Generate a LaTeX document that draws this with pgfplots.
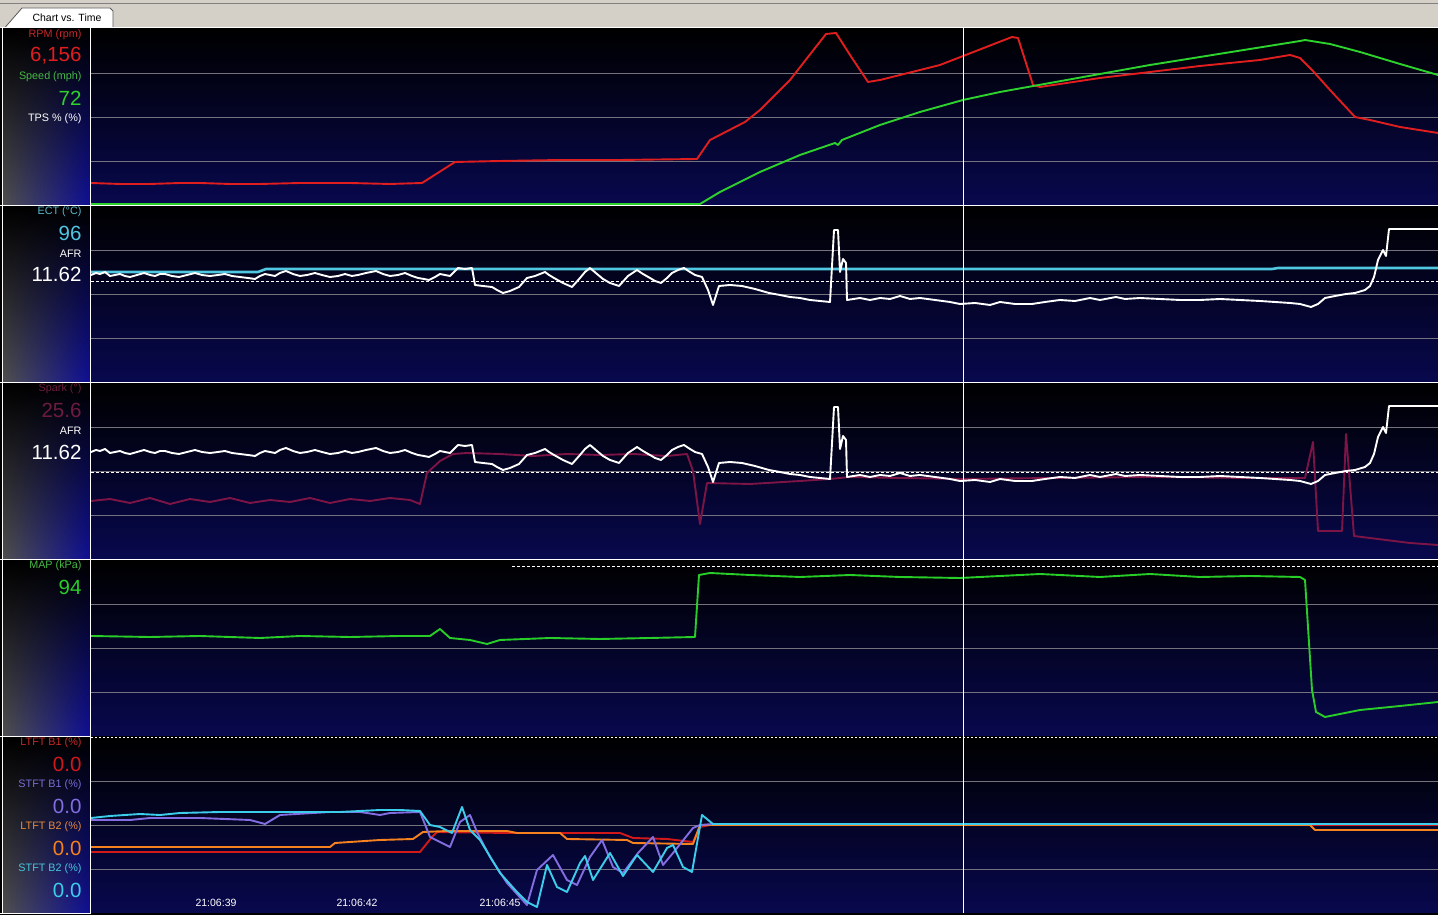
\documentclass[border=0pt]{standalone}
\usepackage{pgfplots}
\pgfplotsset{compat=1.18}
\usepackage{pgfplotstable}
\usepackage{fontspec}
\setmainfont{Liberation Sans}
\usetikzlibrary{fadings}
\definecolor{rpmred}{RGB}{225,30,30}
\definecolor{spdgreen}{RGB}{45,210,45}
\definecolor{ectcyan}{RGB}{80,200,225}
\definecolor{sparkc}{RGB}{125,20,70}
\definecolor{mapgreen}{RGB}{40,205,40}
\definecolor{ltbone}{RGB}{210,25,25}
\definecolor{stbone}{RGB}{130,110,225}
\definecolor{ltbtwo}{RGB}{245,130,30}
\definecolor{stbtwo}{RGB}{60,205,235}
\definecolor{gridgray}{RGB}{115,115,125}
\definecolor{panelbot}{RGB}{8,8,78}
\definecolor{tabgray}{RGB}{212,208,200}
\definecolor{leftblue}{RGB}{15,15,150}
\definecolor{leftgray}{RGB}{80,80,80}
\definecolor{leftmid}{RGB}{12,12,40}
\definecolor{lRPM}{RGB}{200,40,40}
\definecolor{lSPD}{RGB}{70,185,70}
\definecolor{lECT}{RGB}{90,185,205}
\definecolor{lSPK}{RGB}{110,28,62}
\definecolor{lSTB1}{RGB}{120,110,215}
\definecolor{lLTB2}{RGB}{230,140,60}
\definecolor{lSTB2}{RGB}{70,200,220}

\pgfplotstableread{
x y
91 107
96 109
100 108
105 110
110 106
115 107
120 108
125 106
130 105
137 107
144 109
150 107
155 106
160 108
165 108
172 106
179 105
187 107
195 109
202 107
210 106
218 107
225 108
232 106
240 105
248 104
255 103
260 106
265 108
270 107
275 106
280 109
286 111
293 108
300 106
307 107
315 109
322 107
330 105
338 106
345 108
352 106
358 107
366 109
376 111
383 108
390 106
398 107
405 109
412 106
418 104
424 103
429 102
435 105
440 108
445 107
450 106
458 114
465 113
472 114
475 97
483 96
492 95
497 92
503 89
510 91
519 95
527 104
535 106
545 110
549 107
554 104
563 99
572 95
580 104
585 110
590 114
597 108
603 103
610 99
619 96
628 106
637 112
643 108
650 104
655 101
661 99
667 104
672 109
678 112
684 114
690 110
695 107
702 105
708 92
713 77
719 96
730 97
742 96
755 93
769 89
780 87
790 85
800 84
810 82
820 81
830 80
834 152
838 152
840 110
843 123
846 119
847 82
860 84
870 82
880 84
890 83
900 86
910 83
920 84
935 82
950 80
960 78
975 79
990 77
1000 80
1015 78
1032 78
1045 80
1060 82
1075 81
1090 84
1100 82
1116 85
1125 83
1140 84
1160 83
1180 82
1200 82
1220 83
1240 82
1260 81
1275 80
1290 79
1300 78
1311 75
1318 78
1325 84
1335 86
1346 88
1355 89
1365 92
1370 96
1374 105
1378 122
1383 132
1386 126
1389 153
1438 153
}\afr

\pgfplotsset{panel/.style={scale only axis, width=1347pt, height=176pt,
  xmin=91, xmax=1438, ymin=0, ymax=176, anchor=south west,
  axis line style={draw=none}, xtick=\empty, ytick={44,88,132}, yticklabels={},
  major tick length=0pt, ymajorgrids, major grid style={color=gridgray, line width=0.9pt},
  clip=true}}
\tikzset{trace/.style={line width=1.9pt, line join=round, line cap=round}}

\begin{document}
\begin{tikzpicture}[x=1pt,y=1pt]
\useasboundingbox (0,0) rectangle (1438,915);
\fill[tabgray] (0,0) rectangle (1438,915);
\draw[gray, line width=1pt] (0,911.5) -- (1438,911.5);
\fill[black] (0,0) rectangle (1438,887.5);
% tab
\filldraw[fill=white, draw=gray!70!black, line width=0.8pt] (5,887.5) -- (22,907) -- (110,907) -- (113,904) -- (113,887.5);
\node[font=\fontsize{10.5}{12}\selectfont, black] at (67,897) {Chart vs. Time};
% panel backgrounds
\foreach \b in {710,533,356,179,2} {
  \shade[top color=black, bottom color=panelbot] (91,\b) rectangle (1438,\b+176);
  \fill[black] (3,\b) rectangle (90,\b+176);
  \shade[left color=leftgray, middle color=leftmid, right color=leftblue, path fading=north] (3,\b) rectangle (90,\b+176);
}

% ---------- Panel 1: RPM / Speed ----------
\begin{axis}[panel, at={(91pt,710pt)}]
\addplot[trace, rpmred] coordinates {
(91,22) (120,21) (150,21) (180,22) (200,22) (230,21) (260,21) (300,22) (350,22) (390,21) (422,22)
(455,43) (500,44) (560,45) (620,45) (697,46) (710,65) (745,83) (760,95) (790,125)
(826,171) (836,172) (850,150) (868,123) (880,125) (940,140) (1012,168) (1018,167)
(1033,120) (1040,118) (1100,127) (1200,139) (1260,145) (1290,150) (1300,147)
(1312,135) (1330,115) (1355,88) (1370,85) (1400,78) (1438,72)};
\addplot[trace, spdgreen] coordinates {
(91,1) (700,1) (720,13) (760,33) (800,50) (835,62) (838,60) (842,65) (880,80) (920,93)
(963,105) (1000,113) (1050,122) (1100,131) (1150,140) (1200,148) (1250,156) (1300,164)
(1305,165) (1330,161) (1360,153) (1400,141) (1438,130)};
\end{axis}

% ---------- Panel 2: ECT / AFR ----------
\begin{axis}[panel, at={(91pt,533pt)}]
\addplot[white, line width=0.9pt, dash pattern=on 3pt off 2pt] coordinates {(91,101) (1438,101)};
\addplot[trace, ectcyan, line width=2.6pt] coordinates {(91,110) (258,110) (266,113) (1272,113) (1278,114) (1438,114)};
\addplot[trace, white] table[x=x,y=y] {\afr};
\end{axis}

% ---------- Panel 3: Spark / AFR ----------
\begin{axis}[panel, at={(91pt,356pt)}]
\addplot[white, line width=0.9pt, dash pattern=on 3pt off 2pt] coordinates {(91,87) (1438,87)};
\addplot[trace, sparkc] coordinates {
(91,58) (110,60) (130,56) (150,61) (170,55) (190,60) (210,57) (230,61) (250,56) (270,59)
(290,57) (310,61) (330,56) (350,60) (370,58) (390,61) (410,59) (420,55) (427,86) (440,98)
(453,105) (467,106) (500,105) (533,103) (567,105) (600,104) (633,105) (667,103) (687,105)
(693,88) (700,35) (707,76) (750,75) (800,78) (830,80) (850,82) (900,81) (963,80) (1050,81)
(1150,82) (1250,81) (1305,81) (1313,117) (1318,28) (1342,28) (1346,125) (1354,23) (1410,16) (1438,14)};
\addplot[trace, white] table[x=x,y=y] {\afr};
\end{axis}

% ---------- Panel 4: MAP ----------
\begin{axis}[panel, at={(91pt,179pt)}]
\addplot[white, line width=0.9pt, dash pattern=on 3pt off 2pt] coordinates {(512,170) (1438,170)};
\addplot[trace, mapgreen] coordinates {
(91,100) (150,99) (200,100) (260,98) (300,100) (350,99) (400,100) (430,100) (440,107)
(450,98) (470,96) (487,92) (500,96) (550,98) (600,97) (650,98) (695,99) (699,161) (710,163)
(750,161) (800,159) (850,161) (900,159) (960,158) (1000,160) (1040,162) (1100,159)
(1150,162) (1200,159) (1250,160) (1300,159) (1305,156) (1312,46) (1316,24) (1325,19)
(1340,22) (1360,26) (1400,30) (1438,34)};
\end{axis}

% ---------- Panel 5: fuel trims ----------
\begin{axis}[panel, at={(91pt,2pt)}]
\addplot[white, line width=0.9pt, dash pattern=on 2pt off 2pt] coordinates {(91,175.5) (1438,175.5)};
\addplot[trace, ltbone] coordinates {
(91,61) (420,61) (432,76) (437,81) (507,80) (620,80) (633,75) (667,74) (693,71) (700,86) (710,88) (1438,88)};
\addplot[trace, ltbtwo] coordinates {
(91,66) (330,66) (335,70) (380,73) (413,74) (423,81) (447,82) (507,82) (517,80) (560,80)
(567,74) (627,73) (633,70) (693,69) (700,88) (1310,88) (1315,83) (1438,83)};
\addplot[trace, stbone] coordinates {
(91,93) (130,93) (150,95) (200,95) (250,93) (265,89) (280,98) (330,101) (360,101) (380,98)
(390,100) (420,101) (430,76) (450,66) (460,91) (470,98) (477,81) (490,56) (507,30) (527,8)
(537,43) (553,58) (567,33) (577,28) (590,56) (602,73) (613,46) (623,40) (638,60) (653,76)
(663,48) (673,60) (693,85) (700,88) (713,89) (1438,89)};
\addplot[trace, stbtwo] coordinates {
(91,95) (110,97) (140,99) (160,98) (180,100) (220,101) (260,101) (300,101) (340,101) (380,103)
(400,103) (420,102) (430,88) (440,86) (452,80) (462,106) (470,83) (480,73) (500,40) (517,21)
(527,11) (537,6) (547,48) (557,26) (567,21) (580,50) (585,57) (593,33) (610,60) (623,37)
(637,58) (653,41) (667,65) (673,68) (683,46) (692,41) (702,98) (713,89) (1438,89)};
\node[white, font=\fontsize{10.5}{12}\selectfont] at (axis cs:216,10) {21:06:39};
\node[white, font=\fontsize{10.5}{12}\selectfont] at (axis cs:357,10) {21:06:42};
\node[white, font=\fontsize{10.5}{12}\selectfont] at (axis cs:500,10) {21:06:45};
\end{axis}

% frame lines
\draw[white, line width=1pt] (0,887) -- (1438,887);
\foreach \yy in {709.5,532.5,355.5} { \draw[white, line width=1pt] (0,\yy) -- (1438,\yy); }
\draw[white, line width=1pt] (0,178.5) -- (91,178.5);
\draw[white, line width=1pt] (2.5,1) -- (2.5,887);
\draw[white, line width=1pt] (90.5,1) -- (90.5,887);
\draw[white, line width=1pt] (963.5,2) -- (963.5,887);
\draw[white, line width=1pt] (0,1.5) -- (91,1.5);

% labels
\tikzset{sm/.style={anchor=east, font=\fontsize{10.8}{12}\selectfont}, bg/.style={anchor=east, font=\fontsize{20.5}{22}\selectfont}}
\node[sm, lRPM] at (85,880) {RPM (rpm)};
\node[bg, rpmred] at (85,859) {6,156};
\node[sm, lSPD] at (85,838) {Speed (mph)};
\node[bg, spdgreen] at (85,817) {72};
\node[sm, white] at (85,796) {TPS \% (\%)};
\node[sm, lECT] at (85,703) {ECT (°C)};
\node[bg, ectcyan] at (85,682) {96};
\node[sm, white] at (85,661) {AFR};
\node[bg, white] at (85,641) {11.62};
\node[sm, lSPK] at (85,526) {Spark (°)};
\node[bg, lSPK] at (85,505) {25.6};
\node[sm, white] at (85,484) {AFR};
\node[bg, white] at (85,463) {11.62};
\node[sm, lSPD] at (85,349) {MAP (kPa)};
\node[bg, mapgreen] at (85,328) {94};
\node[sm, lRPM] at (85,172) {LTFT B1 (\%)};
\node[bg, ltbone] at (85,151) {0.0};
\node[sm, lSTB1] at (85,130) {STFT B1 (\%)};
\node[bg, stbone] at (85,109) {0.0};
\node[sm, lLTB2] at (85,88) {LTFT B2 (\%)};
\node[bg, ltbtwo] at (85,67) {0.0};
\node[sm, lSTB2] at (85,46) {STFT B2 (\%)};
\node[bg, stbtwo] at (85,25) {0.0};
\end{tikzpicture}
\end{document}
